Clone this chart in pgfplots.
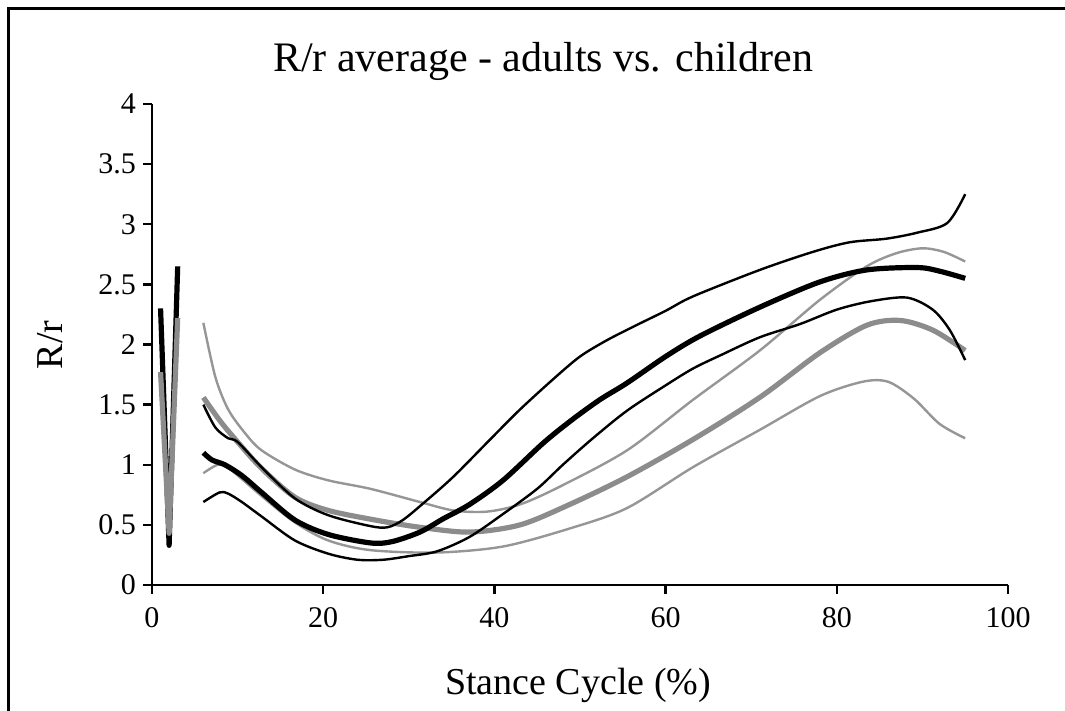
\documentclass[border=0pt]{standalone}
\usepackage{pgfplots}
\pgfplotsset{compat=1.18}
\usepackage{fontspec}
\setmainfont{Liberation Serif}
\definecolor{grk}{RGB}{140,140,140}
\definecolor{grn}{RGB}{150,150,150}

\begin{document}
\begin{tikzpicture}
% 1 px of the reference = 0.5pt; axis box origin at (0,0)
\path[use as bounding box] (-76pt,-63pt) rectangle (456.5pt,292.5pt);
\draw[line width=1.5pt] (-71.5pt,-64pt) -- (-71.5pt,288pt) -- (458pt,288pt);
\begin{axis}[
    width=428pt, height=240.5pt, scale only axis,
    xmin=0, xmax=100, ymin=0, ymax=4,
    axis x line=bottom, axis y line=left,
    axis line style={-, line width=1.2pt},
    xtick={0,20,40,60,80,100},
    ytick={0,0.5,1,1.5,2,2.5,3,3.5,4},
    tick align=outside, major tick length=4.5pt,
    tick style={line width=1.2pt, black},
    tick label style={font=\fontsize{15}{16}\selectfont},
    xticklabel style={yshift=-3pt},
    /pgf/number format/assume math mode=true,
    clip=false,
]
% children -SD
\addplot[grn, line width=1.2pt, smooth] coordinates {
    (6,0.93) (7.7,1.00) (9,0.97) (12.8,0.74) (16.7,0.52) (20.6,0.37) (25.5,0.29)
    (33.3,0.27) (41,0.32) (48.8,0.47) (55.5,0.64) (63.2,0.98) (71,1.29) (78,1.57)
    (83,1.69) (86,1.69) (89,1.55) (92,1.34) (95,1.22)
};
% children +SD
\addplot[grn, line width=1.2pt, smooth] coordinates {
    (6,2.18) (7.4,1.73) (8.9,1.46) (10.9,1.26) (12.8,1.12) (16.7,0.96) (20.6,0.87)
    (25.5,0.80) (31.3,0.69) (35.2,0.62) (39.1,0.61) (43,0.67) (47.7,0.82) (55.5,1.12)
    (63.2,1.54) (71,1.95) (78,2.37) (83.5,2.65) (87,2.76) (90,2.80) (92.5,2.77) (95,2.69)
};
% children mean
\addplot[grk, line width=2.6pt, smooth] coordinates {
    (6,1.56) (8,1.36) (10,1.19) (12.8,0.97) (16.7,0.73) (20.6,0.62) (26.1,0.54)
    (31.3,0.48) (37.1,0.44) (43,0.50) (48.8,0.67) (55.5,0.90) (63.2,1.21) (71,1.56)
    (78,1.93) (83.5,2.16) (87.4,2.20) (91.2,2.12) (95,1.95)
};
% adults -SD
\addplot[black, line width=1.2pt, smooth] coordinates {
    (6,0.69) (7.9,0.77) (8.9,0.76) (10.5,0.69) (12.8,0.57) (16.7,0.37) (20.6,0.26)
    (24,0.21) (27,0.21) (30,0.24) (33.3,0.28) (37.1,0.40) (41,0.59) (45,0.80)
    (48,1.00) (51.5,1.22) (55.5,1.45) (60,1.66) (63.2,1.80) (66.4,1.91) (71,2.06)
    (75.7,2.17) (80,2.29) (84,2.36) (88.2,2.39) (91.2,2.29) (93.2,2.12) (95,1.87)
};
% adults +SD
\addplot[black, line width=1.2pt, smooth] coordinates {
    (6,1.50) (7.4,1.31) (8.9,1.22) (10,1.19) (12.8,0.98) (16.7,0.72) (20.6,0.58)
    (25.5,0.49) (27.5,0.48) (29.3,0.54) (31.7,0.68) (35.2,0.90) (39.5,1.21) (43,1.46)
    (47,1.72) (50,1.90) (53,2.03) (56,2.14) (60,2.28) (63.2,2.40) (71,2.62) (77.2,2.77)
    (81.5,2.85) (85.8,2.88) (89.4,2.93) (92.9,3.01) (95,3.25)
};
% adults mean
\addplot[black, line width=2.6pt, smooth] coordinates {
    (6,1.10) (7,1.04) (8.5,1.00) (10.5,0.91) (12.8,0.77) (16.7,0.54) (20.6,0.42)
    (25.5,0.35) (28,0.36) (31.3,0.44) (34,0.55) (37.1,0.67) (41,0.87) (45.7,1.18)
    (49,1.37) (52.3,1.54) (55.5,1.68) (60,1.90) (64,2.07) (71,2.31) (78,2.52)
    (83.5,2.62) (89.4,2.64) (92,2.61) (95,2.55)
};
% first points of the two means
\addplot[black, line width=2.6pt, line join=round] coordinates {(1,2.30) (2,0.33) (3,2.65)};
\addplot[grk, line width=2.6pt, line join=round] coordinates {(1,1.77) (2,0.43) (3,2.22)};
\end{axis}
\node[anchor=base, font=\fontsize{21}{24}\selectfont] at (195.5pt,256.5pt) {R/r average - adults vs. children};
\node[rotate=90, font=\fontsize{19}{22}\selectfont] at (-51pt,120pt) {R/r};
\node[font=\fontsize{19}{22}\selectfont] at (213pt,-50pt) {Stance Cycle (\%)};
\end{tikzpicture}
\end{document}
